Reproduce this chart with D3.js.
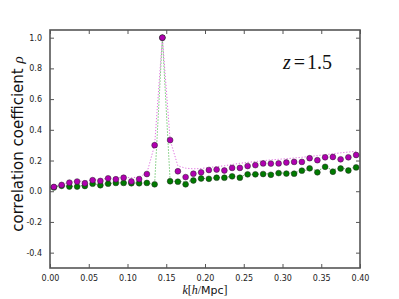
<!DOCTYPE html>
<html>
<head>
<meta charset="utf-8">
<script src="https://cdn.jsdelivr.net/npm/d3@7"></script>
<style>
  body { margin: 0; background: #fff; }
  svg text { font-family: "DejaVu Sans", sans-serif; }
</style>
</head>
<body>
<div id="chart"></div>
<script>
// wavenumber bins (h/Mpc)
const kBins = [0.005, 0.015, 0.025, 0.035, 0.045, 0.055, 0.065, 0.075, 0.085, 0.095,
               0.105, 0.115, 0.125, 0.135, 0.145, 0.155, 0.165, 0.175, 0.185, 0.195,
               0.205, 0.215, 0.225, 0.235, 0.245, 0.255, 0.265, 0.275, 0.285, 0.295,
               0.305, 0.315, 0.325, 0.335, 0.345, 0.355, 0.365, 0.375, 0.385, 0.395];

const magentaPts = [0.028, 0.041, 0.056, 0.063, 0.052, 0.072, 0.067, 0.084, 0.078, 0.088,
                    0.064, 0.079, 0.112, 0.300, 1.000, 0.333, 0.130, 0.092, 0.114, 0.123,
                    0.138, 0.141, 0.135, 0.152, 0.152, 0.164, 0.170, 0.181, 0.180, 0.181,
                    0.187, 0.191, 0.191, 0.215, 0.202, 0.221, 0.223, 0.208, 0.221, 0.236];

const greenPts = [0.025, 0.035, 0.030, 0.030, 0.034, 0.049, 0.039, 0.049, 0.054, 0.054,
                  0.052, 0.052, 0.054, 0.045, 1.000, 0.065, 0.062, 0.045, 0.070, 0.083,
                  0.081, 0.088, 0.088, 0.097, 0.088, 0.110, 0.110, 0.112, 0.107, 0.118,
                  0.115, 0.114, 0.134, 0.149, 0.123, 0.159, 0.127, 0.148, 0.135, 0.155];

// dotted curves
const magentaLine = [0.030, 0.044, 0.058, 0.066, 0.066, 0.074, 0.076, 0.085, 0.085, 0.090,
                     0.088, 0.092, 0.118, 0.300, 1.000, 0.333, 0.165, 0.150, 0.146, 0.148,
                     0.155, 0.160, 0.166, 0.174, 0.182, 0.188, 0.193, 0.199, 0.204, 0.208,
                     0.212, 0.216, 0.221, 0.226, 0.232, 0.238, 0.244, 0.250, 0.255, 0.260];

const greenLine = [0.026, 0.036, 0.032, 0.034, 0.038, 0.046, 0.044, 0.050, 0.053, 0.055,
                   0.054, 0.054, 0.054, 0.045, 1.000, 0.065, 0.064, 0.060, 0.072, 0.082,
                   0.084, 0.088, 0.091, 0.096, 0.098, 0.106, 0.110, 0.113, 0.114, 0.118,
                   0.119, 0.121, 0.132, 0.142, 0.136, 0.152, 0.142, 0.148, 0.146, 0.156];

const xTicks = [0.00, 0.05, 0.10, 0.15, 0.20, 0.25, 0.30, 0.35, 0.40];
const yTicks = [-0.4, -0.2, 0.0, 0.2, 0.4, 0.6, 0.8, 1.0];

const margin = {top: 30, right: 39, bottom: 31, left: 50},
    width = 399 - margin.left - margin.right,
    height = 299 - margin.top - margin.bottom;

const svg = d3.select("#chart").append("svg")
    .attr("width", 399)
    .attr("height", 299)
    .append("g")
    .attr("transform", "translate(" + margin.left + "," + margin.top + ")");

const x = d3.scaleLinear().domain([0, 0.4]).range([0, width]);
const y = d3.scaleLinear().domain([-0.5, 1.05]).range([height, 0]);

const axisColor = "#555";

// ticks, inward like matplotlib
const tickFmtX = d3.format(".2f"), tickFmtY = d3.format(".1f");
svg.append("g")
    .attr("transform", "translate(0," + height + ")")
    .call(d3.axisBottom(x).tickValues(xTicks).tickSize(-4).tickPadding(7).tickFormat(tickFmtX));
svg.append("g")
    .call(d3.axisTop(x).tickValues(xTicks).tickSize(-4).tickFormat(""));
svg.append("g")
    .call(d3.axisLeft(y).tickValues(yTicks).tickSize(-4).tickPadding(8)
        .tickFormat(function(d) { return tickFmtY(d).replace("\u2212", "-"); }));
svg.append("g")
    .attr("transform", "translate(" + width + ",0)")
    .call(d3.axisRight(y).tickValues(yTicks).tickSize(-4).tickFormat(""));

svg.selectAll(".domain").remove();
svg.selectAll(".tick line").attr("stroke", axisColor).attr("stroke-width", 1);
svg.selectAll(".tick text").attr("fill", "#222").style("font-size", "8px");

// frame
svg.append("rect")
    .attr("width", width)
    .attr("height", height)
    .attr("fill", "none")
    .attr("stroke", axisColor)
    .attr("stroke-width", 1.6);

const line = function(vals) {
    return d3.line()
        .x(function(d, i) { return x(kBins[i]); })
        .y(function(d) { return y(d); })(vals);
};

svg.append("path")
    .attr("d", line(greenLine))
    .attr("fill", "none")
    .attr("stroke", "#55bb55")
    .attr("stroke-width", 1)
    .attr("stroke-dasharray", "1.2,1.8");

svg.append("path")
    .attr("d", line(magentaLine))
    .attr("fill", "none")
    .attr("stroke", "#e070e0")
    .attr("stroke-width", 1)
    .attr("stroke-dasharray", "1.2,1.8");

svg.append("g").selectAll("circle")
    .data(greenPts)
    .join("circle")
    .attr("cx", function(d, i) { return x(kBins[i]); })
    .attr("cy", function(d) { return y(d); })
    .attr("r", 2.9)
    .attr("fill", "#007a00")
    .attr("stroke", "#222")
    .attr("stroke-width", 0.5);

svg.append("g").selectAll("circle")
    .data(magentaPts)
    .join("circle")
    .attr("cx", function(d, i) { return x(kBins[i]); })
    .attr("cy", function(d) { return y(d); })
    .attr("r", 2.9)
    .attr("fill", "#b000b0")
    .attr("stroke", "#222")
    .attr("stroke-width", 0.5);

// redshift label
const zLab = svg.append("text")
    .attr("x", 283 - margin.left)
    .attr("y", 69 - margin.top)
    .style("font-family", "'Liberation Serif', serif")
    .style("font-size", "20px")
    .attr("fill", "#111");
zLab.append("tspan").style("font-style", "italic").text("z");
zLab.append("tspan").attr("dx", 3).text("=");
zLab.append("tspan").attr("dx", 2).text("1.5");

// x axis label
const xLab = svg.append("text")
    .attr("x", width / 2)
    .attr("y", height + 26)
    .style("text-anchor", "middle")
    .style("font-size", "11px")
    .attr("fill", "#111");
xLab.append("tspan").style("font-family", "'Liberation Serif', serif").style("font-style", "italic").style("font-size", "12px").text("k");
xLab.append("tspan").style("font-family", "'Liberation Serif', serif").style("font-size", "12px").text("[");
xLab.append("tspan").style("font-family", "'Liberation Serif', serif").style("font-style", "italic").style("font-size", "12px").text("h");
xLab.append("tspan").style("font-family", "'Liberation Serif', serif").style("font-size", "12px").text("/");
xLab.append("tspan").text("Mpc");
xLab.append("tspan").style("font-family", "'Liberation Serif', serif").style("font-size", "12px").text("]");

// y axis label
const yLab = svg.append("text")
    .attr("transform", "rotate(-90)")
    .attr("x", -height / 2 + 5)
    .attr("y", -27)
    .style("text-anchor", "middle")
    .style("font-size", "15px")
    .attr("fill", "#111");
yLab.append("tspan").text("correlation coefficient ");
yLab.append("tspan").style("font-family", "'Liberation Serif', serif").style("font-style", "italic").text("\u03c1");
</script>
</body>
</html>
